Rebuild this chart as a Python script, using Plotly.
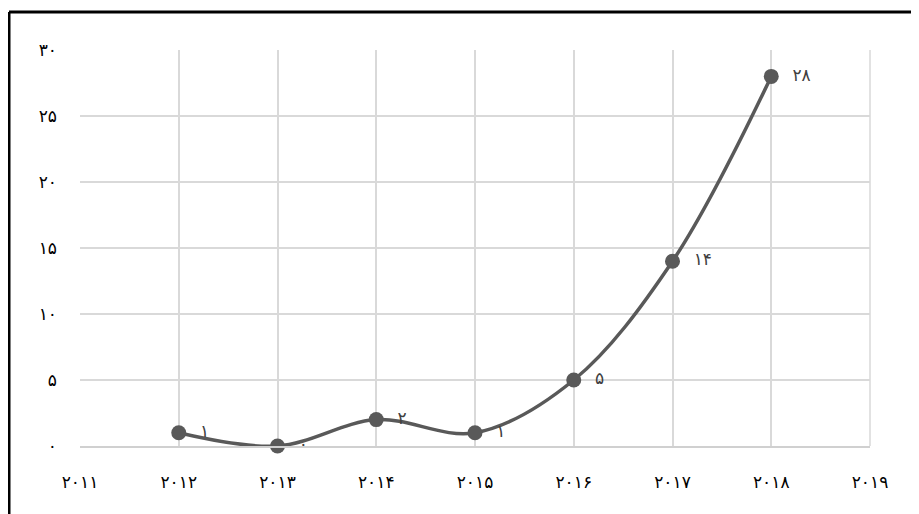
import plotly.graph_objects as go

years = [2012, 2013, 2014, 2015, 2016, 2017, 2018]
values = [1, 0, 2, 1, 5, 14, 28]
value_labels = ["۱", "۰", "۲", "۱", "۵", "۱۴", "۲۸"]
x_ticks = [2011, 2012, 2013, 2014, 2015, 2016, 2017, 2018, 2019]
x_tick_labels = ["۲۰۱۱", "۲۰۱۲", "۲۰۱۳", "۲۰۱۴", "۲۰۱۵", "۲۰۱۶", "۲۰۱۷", "۲۰۱۸", "۲۰۱۹"]
y_ticks = [0, 5, 10, 15, 20, 25, 30]
y_tick_labels = ["۰", "۵", "۱۰", "۱۵", "۲۰", "۲۵", "۳۰"]

line_color = "#595959"
font_family = "DejaVu Sans"

fig = go.Figure()
fig.add_trace(go.Scatter(
    x=years, y=values,
    mode="lines+markers+text",
    line=dict(color=line_color, width=3.5, shape="spline", smoothing=1),
    marker=dict(color=line_color, size=15),
    text=["\u00a0\u00a0" + t for t in value_labels],
    textposition="middle right",
    textfont=dict(family=font_family, size=17, color="#404040"),
    cliponaxis=False,
    hoverinfo="x+y",
))

fig.update_layout(
    width=911, height=506,
    margin=dict(l=72, r=49, t=42, b=68),
    paper_bgcolor="white", plot_bgcolor="white",
    showlegend=False,
    font=dict(family=font_family, size=16, color="#000000"),
    xaxis=dict(
        range=[2011, 2019], tickvals=x_ticks, ticktext=x_tick_labels,
        showgrid=True, gridcolor="#d9d9d9", gridwidth=1.5,
        showline=True, linecolor="#d0d0d0", linewidth=2, mirror=False,
        zeroline=False, ticks="", ticklabelstandoff=20,
        tickfont=dict(family=font_family, size=17, color="#000000"),
    ),
    yaxis=dict(
        range=[0, 30], tickvals=y_ticks, ticktext=y_tick_labels,
        showgrid=True, gridcolor="#d9d9d9", gridwidth=1.5,
        showline=False, zeroline=False, ticks="", ticklabelstandoff=22,
        tickfont=dict(family=font_family, size=17, color="#000000"),
    ),
    shapes=[
        dict(type="line", xref="paper", yref="paper",
             x0=(9 - 80) / 790, x1=(930 - 80) / 790,
             y0=(446 - 12) / 396, y1=(446 - 12) / 396,
             line=dict(color="black", width=3)),
        dict(type="line", xref="paper", yref="paper",
             x0=(9 - 80) / 790, x1=(9 - 80) / 790,
             y0=(446 - 12) / 396, y1=(446 - 530) / 396,
             line=dict(color="black", width=3)),
        dict(type="line", xref="paper", yref="paper",
             x0=1, x1=1, y0=0, y1=1,
             line=dict(color="#d9d9d9", width=1.5)),
    ],
)

fig.write_html("out.html")
